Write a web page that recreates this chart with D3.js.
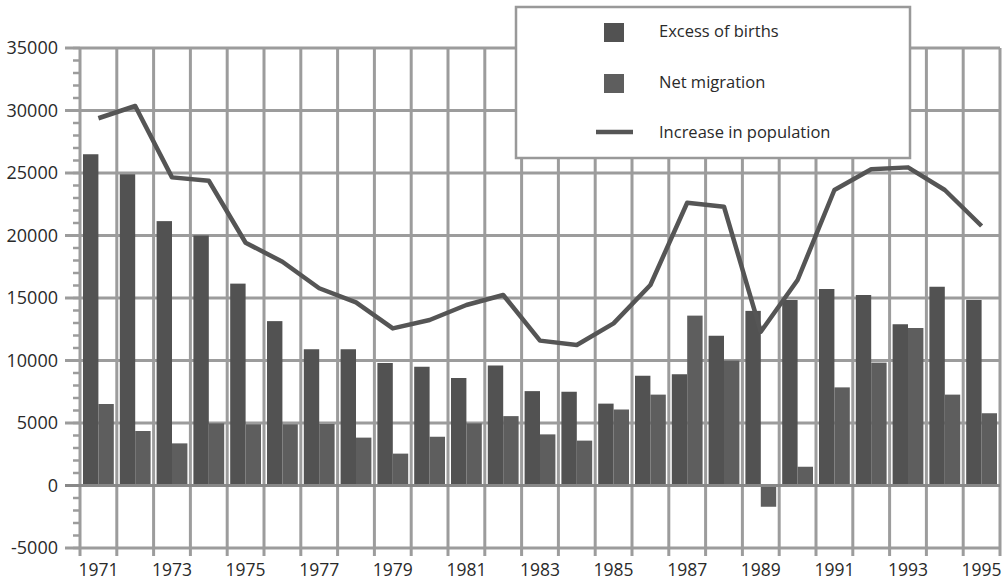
<!DOCTYPE html>
<html>
<head>
<meta charset="utf-8">
<script src="https://cdn.jsdelivr.net/npm/d3@7"></script>
<style>
  body { margin: 0; background: #fff; }
  text { font-family: "Open Sans", sans-serif; fill: #2a2a2a; }
</style>
</head>
<body>
<svg id="chart"></svg>
<script>
var years = [1971, 1972, 1973, 1974, 1975, 1976, 1977, 1978, 1979, 1980, 1981, 1982, 1983,
             1984, 1985, 1986, 1987, 1988, 1989, 1990, 1991, 1992, 1993, 1994, 1995]
var births = [26500, 24900, 21150, 20000, 16150, 13150, 10900, 10900, 9800, 9500, 8600, 9600, 7550,
              7500, 6550, 8780, 8900, 11980, 13970, 14840, 15720, 15240, 12900, 15900, 14840]
var migration = [6520, 4360, 3370, 4970, 4900, 4900, 4920, 3830, 2550, 3900, 4970, 5550, 4090,
                 3590, 6080, 7270, 13590, 9990, -1700, 1500, 7850, 9830, 12600, 7270, 5780]
var increase = [29380, 30360, 24650, 24380, 19420, 17900, 15780, 14650, 12570, 13240, 14440, 15240, 11590,
                11240, 12970, 16040, 22620, 22300, 12300, 16440, 23640, 25300, 25450, 23640, 20760]
var yTicks = [35000, 30000, 25000, 20000, 15000, 10000, 5000, 0, -5000]
var xLabels = [1971, 1973, 1975, 1977, 1979, 1981, 1983, 1985, 1987, 1989, 1991, 1993, 1995]
var seriesNames = ["Excess of births", "Net migration", "Increase in population"]

var width = 1004, height = 581
var plotL = 80, plotR = 1000, plotT = 48, plotB = 548
var gridColor = "#9c9c9c"
var birthColor = "#525252", migColor = "#5e5e5e", lineColor = "#555"

var svg = d3.select("#chart")
    .attr("width", width)
    .attr("height", height)

var x = d3.scaleBand()
    .domain(years)
    .range([plotL, plotR])
    .padding(0)

var x1 = d3.scaleBand()
    .domain(["births", "migration"])
    .range([3, x.bandwidth() - 3])

var y = d3.scaleLinear()
    .domain([-5000, 35000])
    .range([plotB, plotT])

// minor ticks every 1000
var minor = d3.range(-5000, 35001, 1000)
svg.append("g")
  .selectAll("line")
  .data(minor)
  .enter().append("line")
  .attr("x1", plotL - 7)
  .attr("x2", plotL)
  .attr("y1", function(d) { return y(d) })
  .attr("y2", function(d) { return y(d) })
  .attr("stroke", gridColor)
  .attr("stroke-width", 2.5)

// horizontal grid
svg.append("g")
  .selectAll("line")
  .data(yTicks)
  .enter().append("line")
  .attr("x1", plotL - 15)
  .attr("x2", plotR)
  .attr("y1", function(d) { return y(d) })
  .attr("y2", function(d) { return y(d) })
  .attr("stroke", gridColor)
  .attr("stroke-width", 3)

// vertical grid at band edges
var edges = years.map(function(d) { return x(d) }).concat([plotR])
svg.append("g")
  .selectAll("line")
  .data(edges)
  .enter().append("line")
  .attr("x1", function(d) { return d })
  .attr("x2", function(d) { return d })
  .attr("y1", plotT)
  .attr("y2", plotB + 8)
  .attr("stroke", gridColor)
  .attr("stroke-width", 3)

// y labels
svg.append("g")
  .selectAll("text")
  .data(yTicks)
  .enter().append("text")
  .attr("x", 58)
  .attr("y", function(d) { return y(d) })
  .attr("dy", "0.36em")
  .attr("text-anchor", "end")
  .attr("font-size", "18px")
  .text(function(d) { return d })

// x labels
svg.append("g")
  .selectAll("text")
  .data(xLabels)
  .enter().append("text")
  .attr("x", function(d) { return x(d) + x.bandwidth() / 2 })
  .attr("y", 576)
  .attr("text-anchor", "middle")
  .attr("font-size", "17.5px")
  .text(function(d) { return d })

// bars
var bars = svg.append("g")
years.forEach(function(yr, i) {
  var vals = [["births", births[i], birthColor], ["migration", migration[i], migColor]]
  vals.forEach(function(v) {
    bars.append("rect")
      .attr("x", x(yr) + x1(v[0]))
      .attr("width", x1.bandwidth())
      .attr("y", y(Math.max(0, v[1])))
      .attr("height", Math.abs(y(v[1]) - y(0)))
      .attr("fill", v[2])
  })
})

// zero line on top of bars
svg.append("line")
  .attr("x1", plotL - 15)
  .attr("x2", plotR)
  .attr("y1", y(0))
  .attr("y2", y(0))
  .attr("stroke", "#888")
  .attr("stroke-width", 3)

// increase in population line
var line = d3.line()
    .x(function(d, i) { return x(years[i]) + x.bandwidth() / 2 })
    .y(function(d) { return y(d) })

svg.append("path")
  .datum(increase)
  .attr("d", line)
  .attr("fill", "none")
  .attr("stroke", lineColor)
  .attr("stroke-width", 4.5)
  .attr("stroke-linejoin", "round")

// legend
var lg = svg.append("g")
lg.append("rect")
  .attr("x", 516)
  .attr("y", 7)
  .attr("width", 394)
  .attr("height", 151)
  .attr("fill", "#fff")
  .attr("stroke", "#999")
  .attr("stroke-width", 2.5)

lg.append("rect").attr("x", 604).attr("y", 23).attr("width", 20).attr("height", 19).attr("fill", birthColor)
lg.append("rect").attr("x", 604).attr("y", 74).attr("width", 20).attr("height", 19).attr("fill", migColor)
lg.append("line").attr("x1", 596).attr("x2", 633).attr("y1", 132).attr("y2", 132)
  .attr("stroke", lineColor).attr("stroke-width", 4.5)

lg.selectAll("text.leg")
  .data(seriesNames)
  .enter().append("text")
  .attr("class", "leg")
  .attr("x", 659)
  .attr("y", function(d, i) { return [31, 82, 132][i] })
  .attr("dy", "0.36em")
  .attr("font-size", "16.5px")
  .text(function(d) { return d })
</script>
</body>
</html>
